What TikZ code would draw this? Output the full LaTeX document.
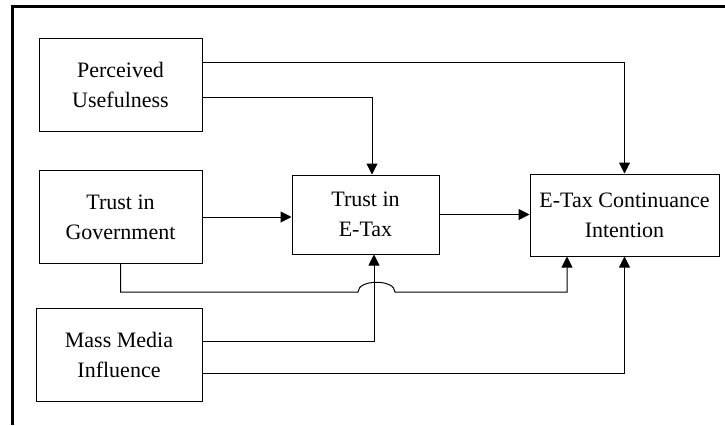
\documentclass[tikz,border=0pt]{standalone}
\usepackage{fontspec}
\setmainfont{Liberation Serif}
\usetikzlibrary{arrows.meta,positioning}

\begin{document}
\begin{tikzpicture}[x=0.5pt,y=-0.5pt,>={Triangle[length=5.5pt,width=5.5pt]},
  every node/.style={font=\fontsize{11}{15}\selectfont,align=center},
  box/.style={draw,line width=0.5pt,minimum width=81.5pt,minimum height=46.5pt,inner sep=0pt},
  link/.style={->,line width=0.5pt}]
\useasboundingbox (0,0) rectangle (725,425);
\draw[line width=1.2pt] (12.5,425) -- (12.5,6.5) -- (725,6.5);
\node[box] (pu) at (120.5,84.5) {Perceived\\Usefulness};
\node[box] (tg) at (120.5,217) {Trust in\\Government};
\node[box,minimum width=83pt] (mm) at (119,354.5) {Mass Media\\Influence};
\node[box,minimum width=73.5pt,minimum height=39.5pt] (te) at (365.5,214.5) {Trust in\\E-Tax};
\node[box,minimum width=94.5pt,minimum height=41pt] (ec) at (624.5,215) {E-Tax Continuance\\Intention};
\coordinate (hop) at (376.5,292);
\draw[link] ([yshift=11.25pt]pu.east) -| (ec.north);
\draw[link] ([yshift=-6.25pt]pu.east) -| ([xshift=3.25pt]te.north);
\draw[link] (tg.east) -- (tg.east -| te.west);
\draw[link] (te.east) -- (te.east -| ec.west);
\draw[link] ([yshift=6.75pt]mm.east) -| ([xshift=4.25pt]te.south);
\draw[link] ([yshift=-9.25pt]mm.east) -| (ec.south);
% hop over the media line
\draw[link] (tg.south) |- ([xshift=-9.25pt]hop) .. controls +(0,-13) and +(0,-13) .. ([xshift=9.25pt]hop) -| ([xshift=-28.75pt]ec.south);
\end{tikzpicture}
\end{document}
